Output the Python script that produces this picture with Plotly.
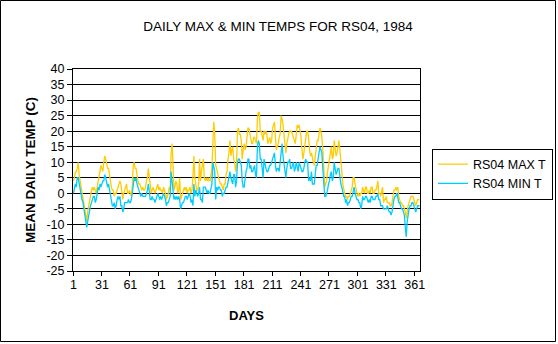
import plotly.graph_objects as go

days = list(range(1, 367))

max_t = [
    4, 5, 7, 7, 8, 10, 6, 4, 2, 1,
    -1, -3, -5, -8, -9, -6, -4, -2, 0, 1,
    2, 1, 2, 1, 0, 2, 4, 5, 8, 9,
    8, 7, 10, 12, 11, 9, 8, 8, 6, 3,
    2, 1, 1, -1, 0, 0, 1, 2, 3, 4,
    3, 0, -2, 0, 1, 2, 3, 0, 0, 1,
    0, -1, 2, 9, 10, 8, 8, 5, 4, 3,
    3, 2, 1, 2, 1, 1, 2, 4, 5, 8,
    5, 3, 0, 1, 2, 1, 0, 1, 2, 3,
    1, 2, 1, 1, 0, 2, 1, 0, -2, -1,
    0, 2, 1, 13, 16, 9, 1, 2, 4, 3,
    0, 1, 5, -2, -1, 0, 1, 2, 1, 2,
    0, 1, 1, 2, 0, 1, 5, 12, 5, 2,
    1, 1, 3, 11, 4, 7, 9, 11, 5, 4,
    5, 4, 5, 4, 4, 6, 8, 16, 23, 19,
    9, 8, 6, 5, 4, 3, 3, 2, 1, 3,
    3, 6, 7, 11, 13, 17, 12, 14, 15, 11,
    10, 7, 9, 20, 21, 19, 19, 17, 11, 14,
    16, 14, 15, 18, 21, 21, 19, 17, 16, 16,
    18, 18, 17, 16, 24, 26, 26, 20, 20, 18,
    17, 20, 19, 20, 19, 16, 17, 18, 16, 17,
    21, 22, 23, 18, 14, 15, 16, 18, 19, 25,
    24, 22, 18, 17, 13, 16, 18, 19, 20, 20,
    20, 19, 18, 17, 16, 19, 22, 21, 22, 20,
    18, 14, 11, 13, 15, 17, 20, 20, 18, 14,
    12, 13, 11, 10, 9, 12, 16, 17, 17, 20,
    21, 20, 18, 14, 9, 2, 3, 4, 7, 9,
    12, 14, 15, 11, 12, 17, 15, 12, 13, 15,
    17, 14, 9, 7, 3, 1, 0, -1, -1, -2,
    -1, -1, 0, 1, 2, 5, 5, 3, 1, 0,
    -1, 0, -1, 0, 0, 2, 1, 0, 2, 2,
    0, 0, 1, 0, 2, 2, 0, 0, 1, 1,
    2, 4, 0, 0, -1, 1, 2, -3, -2, -2,
    -1, -3, -3, -3, -4, -4, -3, 0, 1, 1,
    2, 1, 2, -1, -2, -3, -3, -4, -4, -5,
    -6, -8, -5, -4, -3, -2, -1, -1, -1, -2,
    -3, -4, -3, -2, -2, -2,
]

min_t = [
    0, 2, 3, 2, 5, 5, 3, 1, -1, -2,
    -3, -5, -7, -10, -11, -9, -7, -6, -4, -3,
    -2, -1, -1, -3, -2, 0, 2, 1, 3, 2,
    3, 4, 4, 6, 5, 3, 2, 3, 1, -1,
    -2, -4, -4, -3, -5, -4, -2, -1, -2, -1,
    -4, -4, -6, -5, -3, -3, -3, -3, -2, -3,
    -3, -2, 0, 3, 5, 4, 5, 3, 2, 1,
    0, -1, 0, -1, -1, -1, -1, 0, 1, 3,
    -1, -2, -2, -1, -2, -2, -3, -2, -1, 0,
    -1, -2, -1, -2, -1, 0, -1, -2, -4, -3,
    -3, -2, -1, 7, 4, 2, -2, -1, -2, -1,
    -2, -1, -2, -5, -4, -3, -3, -2, -1, -1,
    -2, -1, 0, -1, -3, -2, -4, 3, -1, 1,
    0, -1, 0, 2, -2, -2, -3, 2, 2, 2,
    1, 0, 1, 0, 0, 2, 3, 10, 8, 7,
    -2, 2, 1, 2, 2, 1, 1, -1, 0, 0,
    1, 2, 2, 4, 6, 7, 5, 4, 3, 6,
    6, 2, 4, 10, 11, 11, 10, 9, 4, 2,
    2, 6, 7, 8, 11, 11, 8, 9, 7, 7,
    8, 9, 6, 5, 15, 17, 16, 11, 11, 8,
    5, 11, 9, 8, 7, 7, 8, 9, 9, 10,
    11, 12, 13, 9, 7, 8, 8, 7, 10, 15,
    16, 12, 9, 8, 5, 8, 10, 10, 11, 8,
    8, 9, 10, 7, 8, 10, 8, 7, 10, 9,
    8, 7, 7, 8, 10, 11, 10, 10, 4, 5,
    4, 7, 3, 3, 3, 6, 9, 9, 11, 14,
    15, 14, 13, 8, 4, -1, -1, 0, 1, 3,
    4, 6, 7, 4, 5, 10, 8, 6, 7, 8,
    8, 5, 3, 2, 0, -1, -1, -3, -2, -4,
    -3, -3, -2, -1, -1, 1, 2, 0, -1, -2,
    -2, -3, -3, -5, -4, -1, -2, -2, -1, -1,
    -2, -3, -2, -3, -1, -1, -2, -2, -2, -1,
    -1, 0, -2, -2, -4, -4, -4, -5, -5, -5,
    -5, -4, -5, -6, -6, -7, -6, -3, -2, -1,
    -1, 0, -1, -3, -3, -4, -5, -5, -6, -7,
    -11, -14, -9, -6, -5, -4, -4, -3, -3, -4,
    -5, -6, -5, -4, -4, -4,
]

x_tick_days = [1, 31, 61, 91, 121, 151, 181, 211, 241, 271, 301, 331, 361]
x_tick_labels = [str(d) for d in x_tick_days]
y_tick_vals = list(range(-25, 45, 5))
y_tick_labels = [str(v) for v in y_tick_vals]

W, H = 558, 344
L, R, T, B = 73, 138, 69, 73
pw, ph = W - L - R, H - T - B

FONT = "Arial, Liberation Sans, sans-serif"

fig = go.Figure()
fig.add_trace(go.Scatter(x=days, y=max_t, mode="lines", name="RS04 MAX T",
                         line=dict(color="#FFCC00", width=1.3)))
fig.add_trace(go.Scatter(x=days, y=min_t, mode="lines", name="RS04 MIN T",
                         line=dict(color="#00CCFF", width=1.3)))


def px_to_paper_x(px):
    return (px - L) / pw


def py_to_paper_y(py):
    return (H - B - py) / ph


# outer chart border
fig.add_shape(type="rect", xref="paper", yref="paper",
              x0=px_to_paper_x(0.5), x1=px_to_paper_x(555.5),
              y0=py_to_paper_y(341.5), y1=py_to_paper_y(0.5),
              line=dict(color="black", width=1), layer="below")

fig.update_layout(
    width=W, height=H,
    margin=dict(l=L, r=R, t=T, b=B, autoexpand=False),
    paper_bgcolor="white", plot_bgcolor="white",
    font=dict(family=FONT, color="black", size=12),
    title=dict(text="DAILY MAX & MIN TEMPS FOR RS04, 1984",
               x=278 / W, xanchor="center", y=1 - 26 / H, yanchor="middle",
               font=dict(size=13.5, family=FONT, color="black")),
    showlegend=True,
    legend=dict(x=px_to_paper_x(432), y=py_to_paper_y(148.5),
                xanchor="left", yanchor="top",
                bordercolor="black", borderwidth=1, bgcolor="white",
                font=dict(size=12.5, family=FONT, color="black"),
                itemwidth=30, tracegroupgap=0),
    xaxis=dict(range=[0.5, 366.5], tickvals=x_tick_days, ticktext=x_tick_labels,
               ticks="outside", ticklen=2, tickcolor="rgba(0,0,0,0)",
               showgrid=False, zeroline=False,
               showline=True, linecolor="black", linewidth=1, mirror=True,
               tickfont=dict(size=12.5),
               minor=dict(tickvals=[0.5 + 30 * k for k in range(13)],
                          ticks="outside", ticklen=4, tickcolor="black",
                          showgrid=False),
               title=dict(text="<b>DAYS</b>", font=dict(size=13), standoff=19)),
    yaxis=dict(range=[-25, 40], tickvals=y_tick_vals, ticktext=y_tick_labels,
               ticks="outside", ticklen=5, tickcolor="black",
               showgrid=True, gridcolor="black", gridwidth=1,
               zeroline=False,
               showline=True, linecolor="black", linewidth=1, mirror=True,
               tickfont=dict(size=12.5),
               title=dict(text="<b>MEAN DAILY TEMP (C)</b>", font=dict(size=13.5), standoff=7)),
)

fig.write_html("out.html")
